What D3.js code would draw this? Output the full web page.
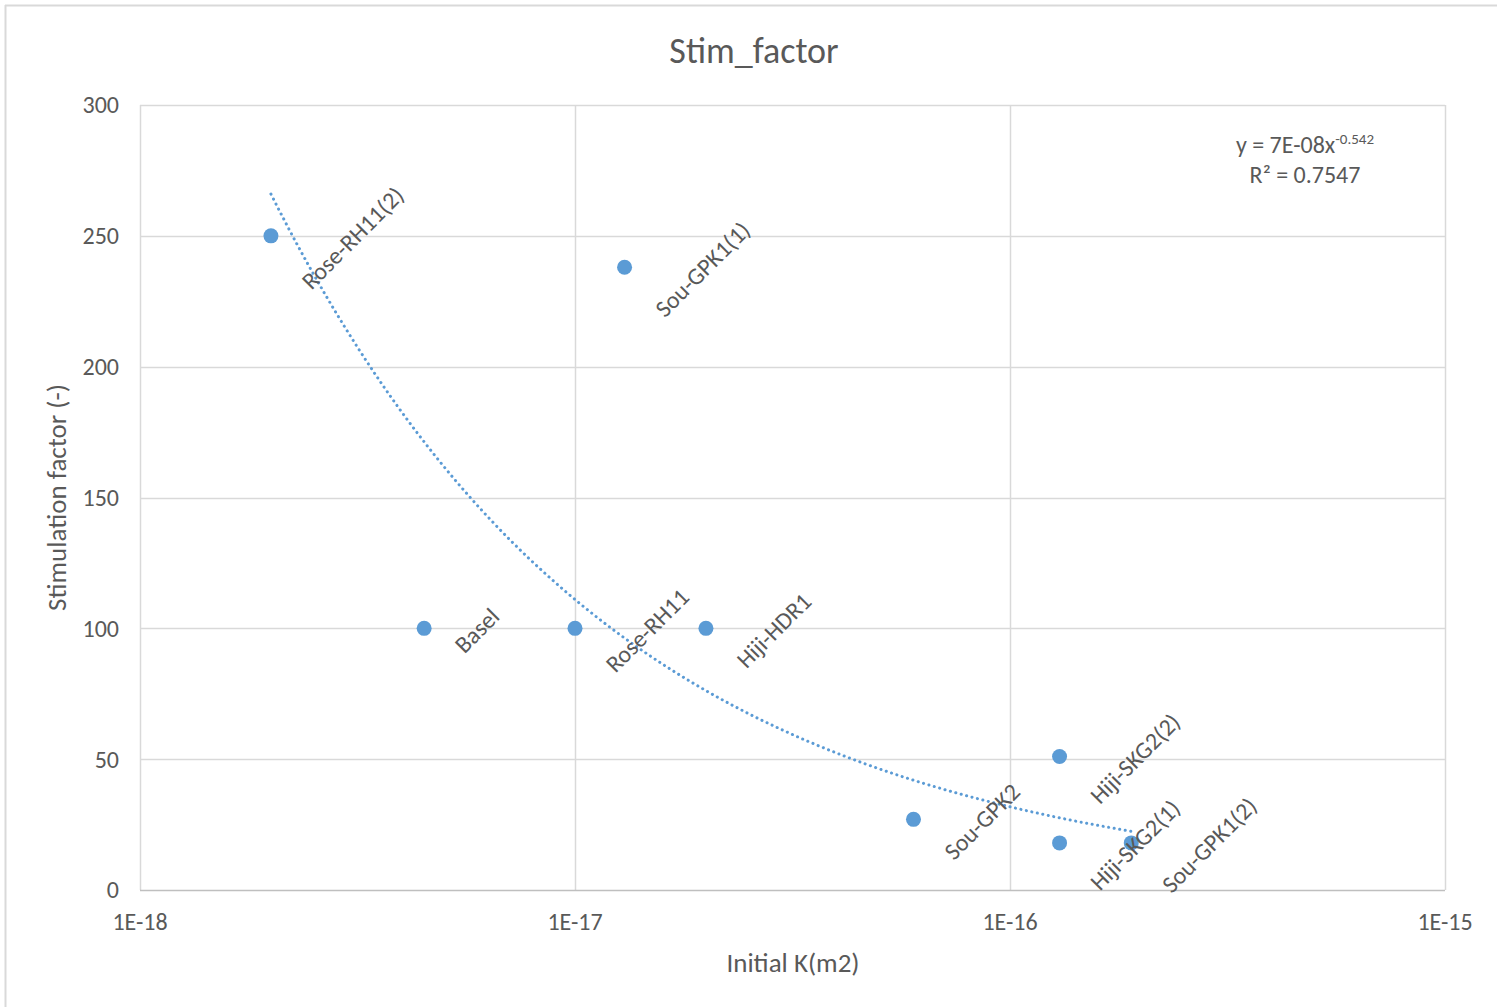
<!DOCTYPE html>
<html>
<head>
<meta charset="utf-8">
<script src="https://cdn.jsdelivr.net/npm/d3@7"></script>
<style>
  body { margin: 0; background: #fff; }
  svg text { font-family: Carlito, "Liberation Sans Narrow", "Open Sans", sans-serif; fill: #595959; }
</style>
</head>
<body>
<svg id="chart" width="1497" height="1007"></svg>
<script>
// data
const site_names = ['Rose-RH11(2)', 'Basel', 'Rose-RH11', 'Sou-GPK1(1)', 'Hiji-HDR1',
                    'Sou-GPK2', 'Hiji-SKG2(2)', 'Hiji-SKG2(1)', 'Sou-GPK1(2)']
const initial_k = [2e-18, 4.5e-18, 1e-17, 1.3e-17, 2e-17, 6e-17, 1.3e-16, 1.3e-16, 1.9e-16]
const stim_factor = [250, 100, 100, 238, 100, 27, 51, 18, 18]
const x_ticks = [1e-18, 1e-17, 1e-16, 1e-15]
const x_tick_labels = ['1E-18', '1E-17', '1E-16', '1E-15']
const y_ticks = [0, 50, 100, 150, 200, 250, 300]

const margin = { top: 105, left: 140, right: 52, bottom: 117 }
const width = 1497, height = 1007
const label_size = 24

let svg = d3.select('#chart')

// chart frame (only top + left edges visible)
svg.append('line').attr('x1', 5).attr('x2', width).attr('y1', 5.5).attr('y2', 5.5)
   .attr('stroke', '#d9d9d9').attr('stroke-width', 2)
svg.append('line').attr('x1', 5.5).attr('x2', 5.5).attr('y1', 5).attr('y2', height)
   .attr('stroke', '#d9d9d9').attr('stroke-width', 2)

const xScale = d3.scaleLog()
                 .domain([1e-18, 1e-15])
                 .range([margin.left, width - margin.right])
const yScale = d3.scaleLinear()
                 .domain([0, 300])
                 .range([height - margin.bottom, margin.top])

// gridlines
let grid = svg.append('g').attr('class', 'grid')
grid.selectAll('.hgrid')
    .data(y_ticks.filter(d => d > 0))
    .join('line')
    .attr('x1', margin.left).attr('x2', width - margin.right)
    .attr('y1', d => Math.round(yScale(d)) + 0.5).attr('y2', d => Math.round(yScale(d)) + 0.5)
    .attr('stroke', '#d9d9d9').attr('stroke-width', 1.5)
grid.selectAll('.vgrid')
    .data(x_ticks)
    .join('line')
    .attr('x1', d => Math.round(xScale(d)) + 0.5).attr('x2', d => Math.round(xScale(d)) + 0.5)
    .attr('y1', margin.top).attr('y2', height - margin.bottom)
    .attr('stroke', '#d9d9d9').attr('stroke-width', 1.5)
// x axis line
svg.append('line')
   .attr('x1', margin.left).attr('x2', width - margin.right)
   .attr('y1', yScale(0) + 0.5).attr('y2', yScale(0) + 0.5)
   .attr('stroke', '#bfbfbf').attr('stroke-width', 1.5)

// tick labels
svg.append('g').selectAll('text')
   .data(y_ticks)
   .join('text')
   .attr('x', margin.left - 21)
   .attr('y', d => yScale(d))
   .attr('dy', '0.35em')
   .attr('text-anchor', 'end')
   .attr('font-size', 24)
   .text(d => d)
svg.append('g').selectAll('text')
   .data(x_ticks)
   .join('text')
   .attr('x', d => xScale(d))
   .attr('y', yScale(0) + 40)
   .attr('text-anchor', 'middle')
   .attr('font-size', 24)
   .text((d, i) => x_tick_labels[i])

// titles
svg.append('text').attr('x', 754).attr('y', 63).attr('text-anchor', 'middle')
   .attr('font-size', 36).text('Stim_factor')
svg.append('text').attr('x', 793).attr('y', 972).attr('text-anchor', 'middle')
   .attr('font-size', 27).text('Initial K(m2)')
svg.append('text')
   .attr('transform', `translate(66,${yScale(150)}) rotate(-90)`)
   .attr('text-anchor', 'middle')
   .attr('font-size', 27).text('Stimulation factor (-)')

// power trendline, least squares in log-log space (as Excel does)
const lx = initial_k.map(Math.log), ly = stim_factor.map(Math.log)
const mx = d3.mean(lx), my = d3.mean(ly)
const sxy = d3.sum(lx, (d, i) => (d - mx) * (ly[i] - my))
const sxx = d3.sum(lx, d => (d - mx) ** 2)
const slope = sxy / sxx, intercept = Math.exp(my - slope * mx)
const k_range = d3.extent(initial_k)
const trend_pts = d3.range(0, 101).map(i => {
    const k = Math.exp(Math.log(k_range[0]) + (Math.log(k_range[1]) - Math.log(k_range[0])) * i / 100)
    return [k, intercept * Math.pow(k, slope)]
})
svg.append('path')
   .attr('d', d3.line().x(d => xScale(d[0])).y(d => yScale(d[1]))(trend_pts))
   .attr('fill', 'none')
   .attr('stroke', '#5b9bd5')
   .attr('stroke-width', 3)
   .attr('stroke-dasharray', '0.1 5.5')
   .attr('stroke-linecap', 'round')

// points
svg.append('g').selectAll('circle')
   .data(initial_k)
   .join('circle')
   .attr('cx', d => xScale(d))
   .attr('cy', (d, i) => yScale(stim_factor[i]))
   .attr('r', 7.5)
   .attr('fill', '#5b9bd5')

// data labels, rotated -45 and placed to the right of each point
let labels = svg.append('g').selectAll('text')
   .data(site_names)
   .join('text')
   .attr('font-size', label_size)
   .attr('text-anchor', 'middle')
   .attr('dy', '0.35em')
   .text(d => d)
labels.each(function (d, i) {
    const w = this.getComputedTextLength()
    const cx = xScale(initial_k[i]) + 26 + (w + label_size) * 0.7071 / 2
    const cy = yScale(stim_factor[i]) + 2
    d3.select(this).attr('transform', `translate(${cx},${cy}) rotate(-45)`)
})

// equation
let eq = svg.append('text').attr('x', 1305).attr('y', 153).attr('text-anchor', 'middle').attr('font-size', 24)
eq.append('tspan').text('y = 7E-08x')
eq.append('tspan').attr('dy', -9).attr('font-size', 15).text('-0.542')
svg.append('text').attr('x', 1305).attr('y', 183).attr('text-anchor', 'middle').attr('font-size', 24)
   .text('R² = 0.7547')
</script>
</body>
</html>
